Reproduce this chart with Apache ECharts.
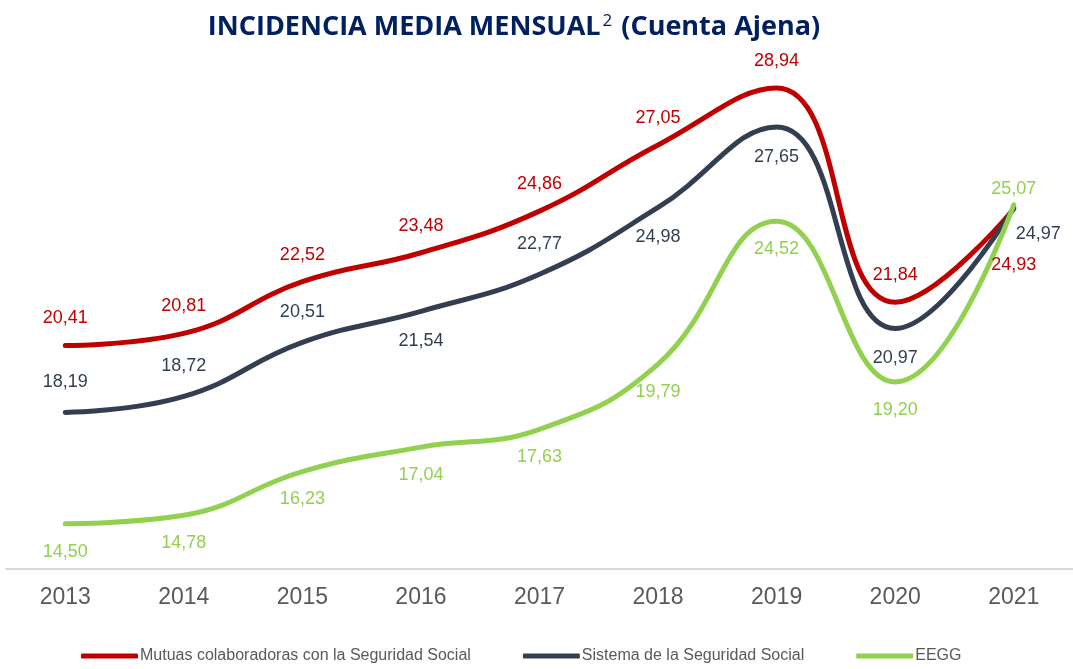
<!DOCTYPE html>
<html>
<head>
<meta charset="utf-8">
<script src="https://cdn.jsdelivr.net/npm/echarts@6/dist/echarts.min.js"></script>
<style>
  html, body { margin: 0; padding: 0; background: #fff; }
  #chart { width: 1073px; height: 669px; }
</style>
</head>
<body>
<div id="chart"></div>
<script>
var years = ['2013', '2014', '2015', '2016', '2017', '2018', '2019', '2020', '2021'];
var mutuas = [20.41, 20.81, 22.52, 23.48, 24.86, 27.05, 28.94, 21.84, 24.93];
var sistema = [18.19, 18.72, 20.51, 21.54, 22.77, 24.98, 27.65, 20.97, 24.97];
var eegg = [14.50, 14.78, 16.23, 17.04, 17.63, 19.79, 24.52, 19.20, 25.07];

// where each point's label sits
var mutuasPos = ['top', 'top', 'top', 'top', 'top', 'top', 'top', 'top', 'bottom'];
var sistemaPos = ['top', 'top', 'top', 'bottom', 'top', 'bottom', 'bottom', 'bottom', 'right'];
var eeggPos = ['bottom', 'bottom', 'bottom', 'bottom', 'bottom', 'bottom', 'bottom', 'bottom', 'top'];

function fmt(v) {
    return v.toFixed(2).replace('.', ',');
}

function points(values, pos, dist) {
    return values.map(function (v, i) {
        return { value: v, label: { position: pos[i], distance: dist } };
    });
}

var chart = echarts.init(document.getElementById('chart'));

var s1 = points(mutuas, mutuasPos, 18);
s1[8].label.distance = 47;
var s2 = points(sistema, sistemaPos, 21);
s2[8].label = { position: 'right', distance: 2, offset: [0, 26] };
var s3 = points(eegg, eeggPos, 19);
s3[8].label.distance = 7;

function line(name, color, data) {
    return {
        name: name,
        type: 'line',
        smooth: 0.45,
        symbol: 'circle',
        symbolSize: 0,
        showSymbol: true,
        data: data,
        lineStyle: { color: color, width: 5, cap: 'round' },
        itemStyle: { color: color },
        label: {
            show: true,
            color: color,
            fontFamily: 'Liberation Sans',
            fontSize: 18,
            formatter: function (p) { return fmt(p.value); }
        }
    };
}

var option = {
    animation: false,
    title: {
        text: '{t|INCIDENCIA MEDIA MENSUAL}{s|2}{t| (Cuenta Ajena)}',
        left: 509,
        textAlign: 'center',
        top: 3,
        textStyle: {
            rich: {
                t: { fontFamily: 'Open Sans', fontWeight: 'bold', fontSize: 27, color: '#002060', lineHeight: 38 },
                s: { fontFamily: 'Open Sans', fontWeight: 'normal', fontSize: 17, color: '#002060', lineHeight: 20, verticalAlign: 'middle', padding: [0, 2, 12, 2] }
            }
        }
    },
    legend: {
        bottom: 0,
        left: 76,
        itemGap: 52,
        itemWidth: 57,
        itemHeight: 5,
        icon: 'roundRect',
        textStyle: { fontFamily: 'Liberation Sans', fontSize: 16, color: '#595959', padding: [0, 0, 0, -3] },
        data: ['Mutuas colaboradoras con la Seguridad Social', 'Sistema de la Seguridad Social', 'EEGG']
    },
    grid: { left: 6, right: 0, top: 56, bottom: 100 },
    xAxis: {
        type: 'category',
        data: years,
        boundaryGap: true,
        axisLine: { lineStyle: { color: '#d9d9d9', width: 2 } },
        axisTick: { show: false },
        axisLabel: { fontFamily: 'Liberation Sans', fontSize: 23, color: '#595959', margin: 17 }
    },
    yAxis: {
        type: 'value',
        min: 13,
        max: 30,
        show: false,
        splitLine: { show: false }
    },
    series: [
        line('Mutuas colaboradoras con la Seguridad Social', '#C00000', s1),
        line('Sistema de la Seguridad Social', '#333F50', s2),
        line('EEGG', '#92D050', s3)
    ]
};

chart.setOption(option);
</script>
</body>
</html>
